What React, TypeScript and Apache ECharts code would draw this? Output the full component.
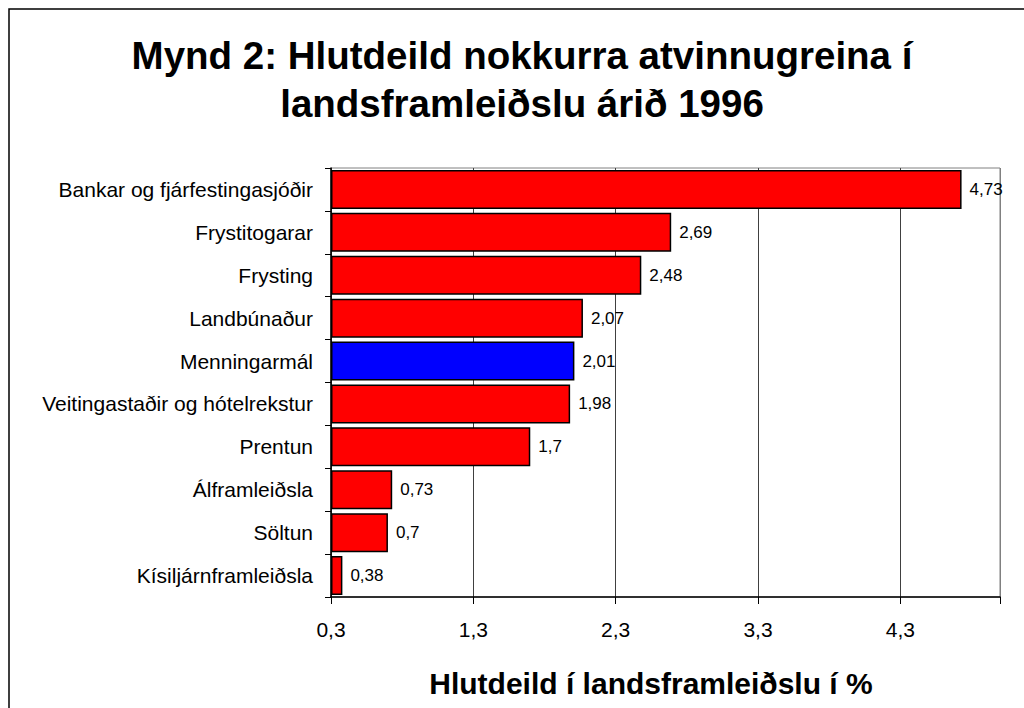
import React, { useEffect, useRef } from "react";
import * as echarts from "echarts";

const categories = [
  "Bankar og fjárfestingasjóðir",
  "Frystitogarar",
  "Frysting",
  "Landbúnaður",
  "Menningarmál",
  "Veitingastaðir og hótelrekstur",
  "Prentun",
  "Álframleiðsla",
  "Söltun",
  "Kísiljárnframleiðsla",
];
const values = [4.73, 2.69, 2.48, 2.07, 2.01, 1.98, 1.7, 0.73, 0.7, 0.38];
const highlighted = "Menningarmál";
const axisStart = 0.3;
const axisEnd = 5.0;
const tickStep = 1;

const titleLines = ["Mynd 2: Hlutdeild nokkurra atvinnugreina í", "landsframleiðslu árið 1996"];
const xAxisTitle = "Hlutdeild í landsframleiðslu í %";

const FONT = "'Liberation Sans', Arial, Helvetica, sans-serif";
const fmt = (v: number) => String(v).replace(".", ",");

export default function App() {
  const ref = useRef<HTMLDivElement>(null);
  useEffect(() => {
    if (!ref.current) return;
    const chart = echarts.init(ref.current, undefined, { renderer: "svg" });
    const span = axisEnd - axisStart;
    chart.setOption({
      animation: false,
      backgroundColor: "#ffffff",
      grid: {
        left: 331,
        right: 24,
        top: 168,
        bottom: 111,
        show: true,
        borderColor: "#808080",
        borderWidth: 1,
        containLabel: false,
      },
      xAxis: {
        type: "value",
        min: 0,
        max: span,
        interval: tickStep,
        axisLine: { show: true, lineStyle: { color: "#000", width: 1.5 } },
        axisTick: { show: true, length: 7, lineStyle: { color: "#000", width: 1 } },
        axisLabel: {
          margin: 22,
          fontFamily: FONT,
          fontSize: 21,
          color: "#000",
          formatter: (v: number) => (v > span - 0.5 ? "" : fmt(Number((v + axisStart).toFixed(1)))),
        },
        splitLine: {
          show: true,
          lineStyle: { color: ["#404040", "#404040", "#404040", "#404040", "#404040", "#808080"], width: 1 },
        },
      },
      yAxis: {
        type: "category",
        data: categories,
        inverse: true,
        axisLine: { show: true, lineStyle: { color: "#000", width: 1.5 } },
        axisTick: { show: true, length: 6, lineStyle: { color: "#000", width: 1 } },
        axisLabel: { margin: 18, fontFamily: FONT, fontSize: 21, color: "#000" },
        splitLine: { show: false },
      },
      series: [
        {
          type: "bar",
          data: values.map((v) => v - axisStart),
          barCategoryGap: "9%",
          itemStyle: {
            color: (p: any) => (p.name === highlighted ? "#0000FF" : "#FF0000"),
            borderColor: "#000",
            borderWidth: 1.5,
          },
          label: {
            show: true,
            position: "right",
            distance: 8,
            fontFamily: FONT,
            fontSize: 17,
            color: "#000",
            formatter: (p: any) => fmt(values[p.dataIndex]),
          },
        },
      ],
      graphic: [
        {
          type: "rect",
          shape: { x: 9, y: 9, width: 1040, height: 730 },
          style: { fill: "none", stroke: "#000", lineWidth: 1.5 },
          silent: true,
        },
        {
          type: "text",
          x: 522,
          y: 55,
          style: {
            text: titleLines[0],
            fontFamily: FONT,
            fontSize: 38.5,
            fontWeight: "bold",
            fill: "#000",
            align: "center",
            verticalAlign: "middle",
          },
        },
        {
          type: "text",
          x: 522,
          y: 103,
          style: {
            text: titleLines[1],
            fontFamily: FONT,
            fontSize: 38.5,
            fontWeight: "bold",
            fill: "#000",
            align: "center",
            verticalAlign: "middle",
          },
        },
        {
          type: "text",
          x: 651,
          y: 683,
          style: {
            text: xAxisTitle,
            fontFamily: FONT,
            fontSize: 30,
            fontWeight: "bold",
            fill: "#000",
            align: "center",
            verticalAlign: "middle",
          },
        },
      ],
    });
    return () => chart.dispose();
  }, []);
  return (
    <div
      ref={ref}
      style={{ position: "absolute", left: 0, top: 0, width: 1024, height: 708 }}
    />
  );
}
